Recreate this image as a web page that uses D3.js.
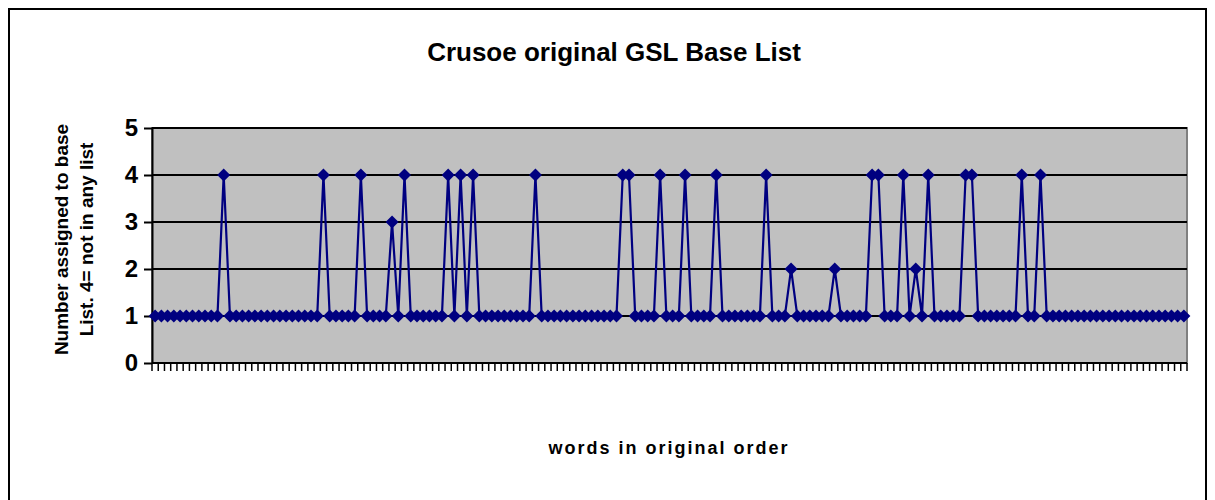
<!DOCTYPE html>
<head>
  <script src="https://d3js.org/d3.v7.min.js"></script>
  <meta charset='utf-8'>
  <style>
    body { margin: 0; background: #fff; }
    svg text { font-family: "Liberation Sans", Arial, sans-serif; font-weight: bold; }
  </style>
</head>
<body>
<div id="chart"></div>
<script>

// Number of words in the sample (categories are just 1..N)
var wordCount = 166;

// non-default values by word index; every other word scores 1
var spikeIndex = [11, 27, 33, 38, 40, 47, 49, 51, 61, 75, 76, 81, 85, 90, 98, 102, 109,
                  115, 116, 120, 122, 124, 130, 131, 139, 142];
var spikeValue = [4, 4, 4, 3, 4, 4, 4, 4, 4, 4, 4, 4, 4, 4, 4, 2, 2,
                  4, 4, 4, 2, 4, 4, 4, 4, 4];

var yTicks = [0, 1, 2, 3, 4, 5];

var values = d3.range(wordCount).map(function(i) {
  var k = spikeIndex.indexOf(i);
  return k < 0 ? 1 : spikeValue[k];
});
var data = values.map(function(v, i) { return {i: i, v: v}; });

var W = 1215, H = 500;
var margin = {top: 128, right: 28, bottom: 137, left: 152},
    width = W - margin.left - margin.right,
    height = H - margin.top - margin.bottom;

var root = d3.select("#chart").append("svg")
    .attr("width", W)
    .attr("height", H);

// outer chart frame (bottom edge falls outside the picture)
root.append("rect")
    .attr("x", 9).attr("y", 9)
    .attr("width", W - 18).attr("height", H + 10)
    .attr("fill", "#fff")
    .attr("stroke", "#000")
    .attr("stroke-width", 2);

root.append("text")
    .attr("x", 614).attr("y", 61)
    .attr("text-anchor", "middle")
    .attr("font-size", "26px")
    .text("Crusoe original GSL Base List");

root.append("text")
    .attr("x", 669).attr("y", 454)
    .attr("text-anchor", "middle")
    .attr("font-size", "18px")
    .attr("letter-spacing", "2px")
    .text("words in original order");

var yl = root.append("text")
    .attr("transform", "translate(68," + (margin.top + height / 2 - 6) + ") rotate(-90)")
    .attr("text-anchor", "middle")
    .attr("font-size", "19px");
yl.append("tspan").attr("x", 0).attr("dy", 0).text("Number assigned to base");
yl.append("tspan").attr("x", 0).attr("dy", 25).text("List. 4= not in any list");

var svg = root.append("g")
    .attr("transform", `translate(${margin.left},${margin.top})`);

var x = d3.scaleBand()
    .domain(d3.range(wordCount))
    .range([0, width]);

var y = d3.scaleLinear()
    .domain([0, 5])
    .range([height, 0]);

svg.append("rect")
    .attr("width", width).attr("height", height)
    .attr("fill", "#c0c0c0")
    .attr("stroke", "#808080")
    .attr("stroke-width", 2);

// gridlines
svg.append("g")
    .selectAll("line")
    .data(yTicks.filter(function(d) { return d > 0; }))
    .join("line")
    .attr("x1", 0).attr("x2", width)
    .attr("y1", function(d) { return y(d); })
    .attr("y2", function(d) { return y(d); })
    .attr("stroke", "#000")
    .attr("stroke-width", 2);

// y axis
var yAxis = svg.append("g")
    .call(d3.axisLeft(y).tickValues(yTicks).tickFormat(d3.format("d"))
      .tickSize(8).tickPadding(6).tickSizeOuter(0));
yAxis.selectAll("text").attr("font-size", "24px").attr("font-family", null).attr("fill", "#000");
yAxis.selectAll("line, path").attr("stroke", "#000").attr("stroke-width", 2);

// x axis: one tick at every category boundary
var bounds = d3.range(wordCount + 1).map(function(i) { return i * x.step(); });
var xAxis = svg.append("g")
    .attr("transform", `translate(0, ${height})`);
xAxis.append("line")
    .attr("x1", 0).attr("x2", width)
    .attr("stroke", "#000").attr("stroke-width", 2);
xAxis.selectAll("line.tick")
    .data(bounds)
    .join("line")
    .attr("class", "tick")
    .attr("x1", function(d) { return d; })
    .attr("x2", function(d) { return d; })
    .attr("y1", 0).attr("y2", 8)
    .attr("stroke", "#000")
    .attr("stroke-width", 1.5);

var cx = function(d) { return x(d.i) + x.bandwidth() / 2; };

svg.append("path")
    .datum(data)
    .attr("fill", "none")
    .attr("stroke", "#000080")
    .attr("stroke-width", 2.2)
    .attr("d", d3.line()
      .x(cx)
      .y(function(d) { return y(d.v); }));

svg.append("g")
    .selectAll("path")
    .data(data)
    .join("path")
    .attr("transform", function(d) { return `translate(${cx(d)},${y(d.v)})`; })
    .attr("d", "M0,-6.5L6.5,0L0,6.5L-6.5,0Z")
    .attr("fill", "#000080");

</script>
</body>
